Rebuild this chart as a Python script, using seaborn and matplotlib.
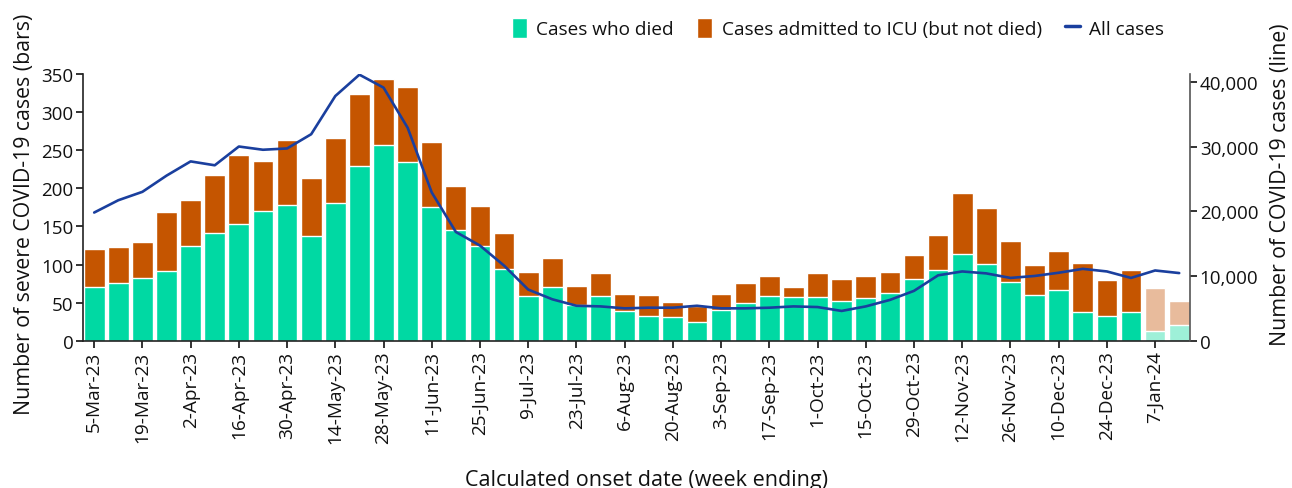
import numpy as np
import pandas as pd
import matplotlib
matplotlib.use('Agg')
import matplotlib.pyplot as plt
import seaborn as sns
from matplotlib.patches import Patch
from matplotlib.lines import Line2D

# weekly data, week ending 5-Mar-23 to 14-Jan-24
weeks = pd.date_range('2023-03-05', periods=46, freq='7D')
week_labels = [f"{d.day}-{d.strftime('%b-%y')}" for d in weeks]

# severe cases (died + ICU not died)
severe_total = [120, 123, 129, 169, 185, 217, 244, 236, 263, 214, 266, 324, 343, 333, 261,
                203, 177, 141, 90, 108, 72, 89, 61, 60, 51, 46, 61, 76, 85, 70,
                89, 81, 85, 90, 112, 139, 194, 174, 131, 99, 118, 102, 80, 93, 69, 52]
died = [70, 76, 82, 91, 124, 142, 153, 170, 178, 137, 181, 229, 257, 234, 176,
        145, 124, 94, 59, 70, 47, 59, 39, 32, 31, 24, 40, 49, 59, 57,
        57, 52, 56, 62, 81, 93, 114, 101, 77, 60, 66, 38, 32, 38, 13, 21]
all_cases = [19800, 21700, 23000, 25500, 27700, 27100, 30000, 29500, 29700, 31900, 37800, 41100, 39100, 32900, 22900,
             16800, 14700, 11600, 7900, 6400, 5400, 5300, 5000, 5100, 5100, 5400, 5000, 5000, 5100, 5300,
             5200, 4600, 5300, 6300, 7700, 10100, 10700, 10400, 9700, 10000, 10500, 11100, 10700, 9700, 10850, 10450]
# last two weeks are incomplete (drawn lighter)
incomplete = [False] * 44 + [True, True]

green, orange, blue = '#00d9a3', '#c55500', '#1a3f9e'
green_light, orange_light = '#9ef0d8', '#e8bb9c'

df = pd.DataFrame({'week': week_labels, 'total': severe_total, 'died': died, 'cases': all_cases})
icu_colors = [orange_light if f else orange for f in incomplete]
died_colors = [green_light if f else green for f in incomplete]

sns.set_style('white')
plt.rcParams['font.family'] = ['Open Sans', 'DejaVu Sans']
plt.rcParams['axes.linewidth'] = 1.2
plt.rcParams['text.color'] = '#111111'
plt.rcParams['axes.labelcolor'] = '#111111'
plt.rcParams['xtick.color'] = '#111111'
plt.rcParams['ytick.color'] = '#111111'

fig = plt.figure(figsize=(12.92, 4.89), dpi=100)
ax = fig.add_axes([0.0645, 0.3012, 0.8566, 0.5454])

sns.barplot(data=df, x='week', y='total', hue='week', palette=icu_colors, legend=False,
            width=0.86, saturation=1, ax=ax)
sns.barplot(data=df, x='week', y='died', hue='week', palette=died_colors, legend=False,
            width=0.86, saturation=1, ax=ax)

ax.set_xlim(-0.45, len(df) - 0.55)
ax.set_ylim(0, 350)
ax.set_yticks(range(0, 351, 50))
ax.set_xticks(range(0, len(df), 2))
ax.set_xticklabels(week_labels[::2], rotation=90, fontsize=13.7)
ax.tick_params(axis='y', labelsize=13.5, length=5, width=1.2, pad=2, left=True)
ax.tick_params(axis='x', length=5, width=1.2, pad=2, bottom=True)
ax.set_xlabel('Calculated onset date (week ending)', fontsize=15.5)
ax.set_ylabel('Number of severe COVID-19 cases (bars)', fontsize=15.3)
ax.xaxis.set_label_coords(0.5085, -0.48)
ax.yaxis.set_label_coords(-0.0436, 0.479)
for s in ['top', 'right']:
    ax.spines[s].set_visible(False)
ax.spines['left'].set_color('#222222')
ax.spines['bottom'].set_color('#222222')

ax2 = ax.twinx()
sns.lineplot(x=np.arange(len(df)), y=df['cases'], color=blue, linewidth=1.9, ax=ax2)
ax2.set_ylim(0, 41200)
ax2.set_yticks(range(0, 40001, 10000))
ax2.set_yticklabels([f'{v:,}' for v in range(0, 40001, 10000)])
ax2.tick_params(axis='y', labelsize=13.5, length=5, width=1.2, pad=2, right=True)
ax2.set_ylabel('Number of COVID-19 cases (line)', fontsize=15.3)
ax2.yaxis.set_label_coords(1.0723, 0.5876)
for s in ['top', 'left', 'bottom']:
    ax2.spines[s].set_visible(False)
ax2.spines['right'].set_color('#555555')

handles = [Patch(facecolor=green, label='Cases who died'),
           Patch(facecolor=orange, label='Cases admitted to ICU (but not died)'),
           Line2D([], [], color=blue, linewidth=2.5, label='All cases')]
fig.legend(handles=handles, loc='center right', bbox_to_anchor=(1172 / 1292, 1 - 29 / 489),
           ncol=3, frameon=False, fontsize=13.7, handlelength=0.8, handleheight=1.3,
           handletextpad=0.5, columnspacing=1.2, borderaxespad=0)

fig.savefig('out.png', dpi=100)
